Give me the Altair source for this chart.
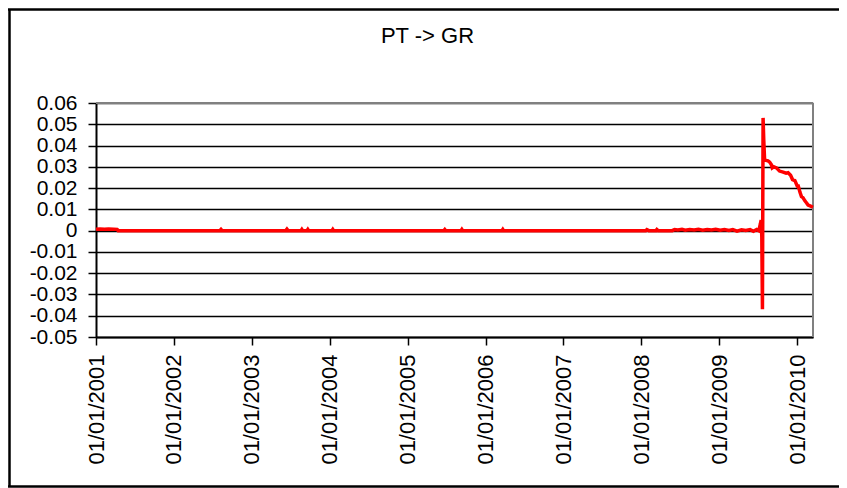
import altair as alt
import pandas as pd

# ---- data ----
dates = [
    "2001-01-01", "2001-01-20", "2001-02-10", "2001-03-01", "2001-03-25", "2001-04-10", "2001-04-15",
    "2002-08-05", "2002-08-10", "2002-08-15",
    "2003-06-10", "2003-06-15", "2003-06-20",
    "2003-08-20", "2003-08-24", "2003-08-28",
    "2003-09-17", "2003-09-21", "2003-09-25",
    "2004-01-12", "2004-01-16", "2004-01-20",
    "2005-06-20", "2005-06-24", "2005-06-28",
    "2005-09-08", "2005-09-12", "2005-09-16",
    "2006-03-19", "2006-03-23", "2006-03-27",
    "2008-01-22", "2008-01-27", "2008-02-05",
    "2008-03-10", "2008-03-14", "2008-03-20",
    "2008-05-25", "2008-06-05", "2008-06-20", "2008-07-10", "2008-07-25", "2008-08-15",
    "2008-09-05", "2008-09-25", "2008-10-15", "2008-11-05", "2008-11-25", "2008-12-15",
    "2009-01-05", "2009-01-25", "2009-02-15", "2009-03-05", "2009-03-25", "2009-04-15",
    "2009-05-05", "2009-05-25", "2009-06-10", "2009-06-25", "2009-07-05", "2009-07-12",
    "2009-07-16", "2009-07-19", "2009-07-22", "2009-07-25", "2009-07-28", "2009-08-01",
    "2009-08-08", "2009-08-17", "2009-08-25", "2009-09-02", "2009-09-06", "2009-09-13",
    "2009-09-26", "2009-10-10", "2009-10-27", "2009-11-10", "2009-11-19", "2009-12-01",
    "2009-12-10", "2009-12-21", "2010-01-01", "2010-01-06", "2010-01-14", "2010-01-21",
    "2010-01-28", "2010-02-06", "2010-02-14", "2010-02-21", "2010-03-05", "2010-03-16",
]
values = [
    0.0006, 0.0008, 0.0006, 0.0008, 0.0007, 0.0006, 0.0,
    0.0, 0.0006, 0.0,
    0.0, 0.0007, 0.0,
    0.0, 0.0006, 0.0,
    0.0, 0.0006, 0.0,
    0.0, 0.0006, 0.0,
    0.0, 0.0005, 0.0,
    0.0, 0.0006, 0.0,
    0.0, 0.0006, 0.0,
    0.0, 0.0005, 0.0,
    0.0, 0.0005, 0.0,
    0.0, 0.0005, 0.0003, 0.0006, 0.0002, 0.0005,
    0.0003, 0.0006, 0.0002, 0.0005, 0.0003, 0.0006,
    0.0002, 0.0005, 0.0001, 0.0005, -0.0002, 0.0004,
    0.0001, 0.0005, -0.0003, 0.0005, 0.0, 0.003,
    0.005, -0.003, -0.037, 0.053, 0.043, 0.0335,
    0.033, 0.0328, 0.0322, 0.031, 0.0295, 0.030,
    0.0295, 0.028, 0.0275, 0.027, 0.0272, 0.026,
    0.024, 0.0235, 0.021, 0.021, 0.018, 0.016,
    0.0155, 0.014, 0.013, 0.012, 0.0115, 0.011,
]
y_ticks = [-0.05, -0.04, -0.03, -0.02, -0.01, 0.0, 0.01, 0.02, 0.03, 0.04, 0.05, 0.06]
tick_years = list(range(2001, 2011))
title_text = "PT -> GR"

df = pd.DataFrame({"date": dates, "value": values})

FONT = "Liberation Sans"
W, H = 717, 234
PAD = {"left": 88, "top": 95, "right": 26, "bottom": 151}

x_enc = alt.X(
    "date:T",
    title=None,
    scale=alt.Scale(type="utc",
                    domain=[alt.DateTime(year=2001, month=1, date=1, utc=True),
                            alt.DateTime(year=2010, month=3, date=16, utc=True)]),
    axis=alt.Axis(
        values=[alt.DateTime(year=y, month=1, date=1, utc=True) for y in tick_years],
        labelExpr="utcFormat(datum.value, '%d/%m/%Y')",
        labelAngle=270, labelFont=FONT, labelFontSize=22, labelColor="black",
        labelPadding=9, tickSize=8, tickColor="black", tickWidth=1.5,
        domainColor="black", domainWidth=2, grid=False, zindex=0,
        labelOverlap=False, labelFlush=False,
    ),
)
y_enc = alt.Y(
    "value:Q",
    title=None,
    scale=alt.Scale(domain=[-0.05, 0.06], nice=False, zero=False),
    axis=alt.Axis(
        values=y_ticks,
        labelExpr="datum.value == 0 ? '0' : (datum.value < 0 ? '-' : '') + format(abs(datum.value), '.2f')",
        labelFont=FONT, labelFontSize=21, labelColor="black", labelPadding=11,
        tickSize=8, tickColor="black", tickWidth=1.5,
        domainColor="black", domainWidth=2,
        grid=True, gridColor="black", gridWidth=1.5, zindex=0,
        labelOverlap=False, labelFlush=False,
    ),
)

line = alt.Chart(df).mark_line(color="#FF0000", strokeWidth=3.5).encode(x=x_enc, y=y_enc)

one = alt.Data(values=[{"t": title_text}])
# gray plot-area border (top and right)
top_border = alt.Chart(one).mark_rule(color="#808080", strokeWidth=2).encode(
    x=alt.value(0), x2=alt.value(W), y=alt.value(0))
right_border = alt.Chart(one).mark_rule(color="#808080", strokeWidth=2).encode(
    x=alt.value(W), y=alt.value(0), y2=alt.value(H))
# outer chart frame
bottom_y = H + PAD["bottom"] - 1.5
frame_left = alt.Chart(one).mark_rule(color="black", strokeWidth=2.5).encode(
    x=alt.value(-86.5), y=alt.value(-94), y2=alt.value(bottom_y))
frame_top = alt.Chart(one).mark_rule(color="black", strokeWidth=2.5).encode(
    x=alt.value(-88), x2=alt.value(W + PAD["right"]), y=alt.value(-93.5))
frame_bottom = alt.Chart(one).mark_rule(color="black", strokeWidth=2.5).encode(
    x=alt.value(-88), x2=alt.value(W + PAD["right"]), y=alt.value(bottom_y))
# chart title
title = alt.Chart(one).mark_text(font=FONT, fontSize=22, color="black",
                                 align="center", baseline="alphabetic").encode(
    text="t:N", x=alt.value(W / 2 - 27), y=alt.value(-60))

chart = alt.layer(
    top_border, right_border, line, frame_left, frame_top, frame_bottom, title,
).properties(
    width=W, height=H,
    autosize=alt.AutoSizeParams(type="none"),
    padding=PAD,
).configure_view(strokeWidth=0)

chart.save("out.html", embed_options={"renderer": "svg", "actions": False})
